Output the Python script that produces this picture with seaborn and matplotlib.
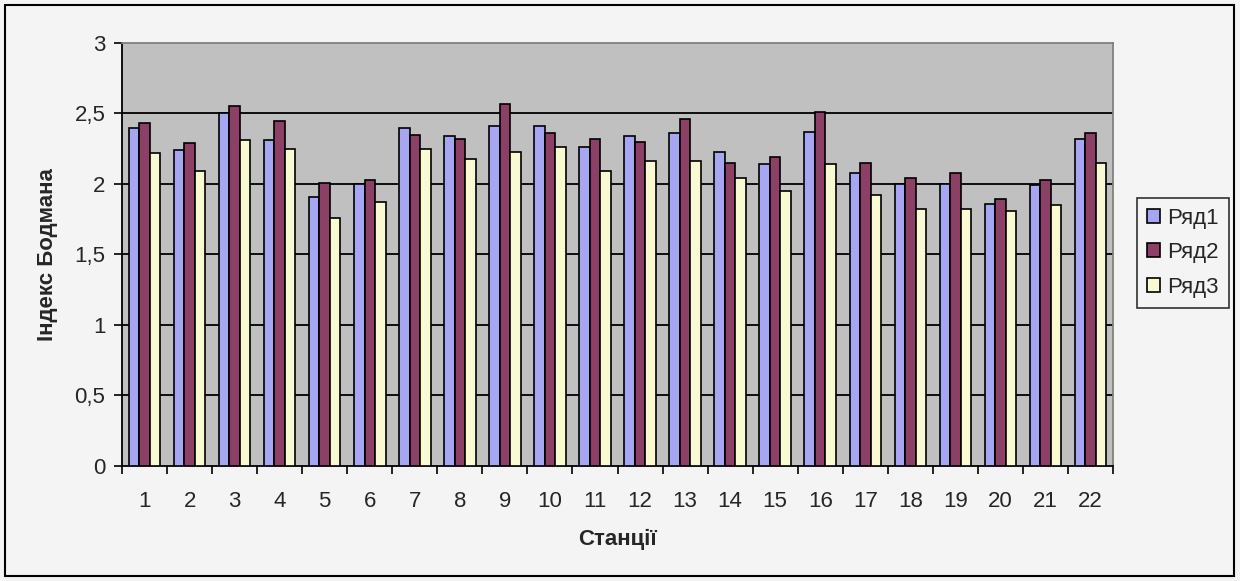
import numpy as np
import pandas as pd
import matplotlib
matplotlib.use("Agg")
import matplotlib.pyplot as plt
import seaborn as sns
from matplotlib.patches import Rectangle
from matplotlib.ticker import FuncFormatter, FixedLocator

# значення, зчитані з діаграми
stations = [str(i) for i in range(1, 23)]
row1 = [2.40, 2.24, 2.50, 2.31, 1.91, 2.00, 2.40, 2.34, 2.41, 2.41, 2.26,
        2.34, 2.36, 2.23, 2.14, 2.37, 2.08, 2.00, 2.00, 1.86, 1.99, 2.32]
row2 = [2.43, 2.29, 2.55, 2.45, 2.01, 2.03, 2.35, 2.32, 2.57, 2.36, 2.32,
        2.30, 2.46, 2.15, 2.19, 2.51, 2.15, 2.04, 2.08, 1.89, 2.03, 2.36]
row3 = [2.22, 2.09, 2.31, 2.25, 1.76, 1.87, 2.25, 2.18, 2.23, 2.26, 2.09,
        2.16, 2.16, 2.04, 1.95, 2.14, 1.92, 1.82, 1.82, 1.81, 1.85, 2.15]
series_names = ["Ряд1", "Ряд2", "Ряд3"]
colors = ["#9999ff", "#993366", "#ffffcc"]

df = pd.DataFrame({
    "station": stations * 3,
    "value": row1 + row2 + row3,
    "series": np.repeat(series_names, len(stations)),
})

sns.set_style("white")
plt.rcParams["font.family"] = ["Liberation Sans", "DejaVu Sans"]
FS = 16

fig = plt.figure(figsize=(12.4, 5.81), dpi=100, facecolor="#f4f4f4")
ax = fig.add_axes([0.0984, 0.198, 0.7992, 0.728])
ax.set_facecolor("#c0c0c0")

sns.barplot(data=df, x="station", y="value", hue="series", palette=colors,
            width=0.7, gap=0, edgecolor="black", linewidth=1.2, ax=ax,
            legend=True, zorder=3)

ax.set_ylim(0, 3)
ax.set_xlim(-0.5, len(stations) - 0.5)
ax.set_yticks(np.arange(0, 3.01, 0.5))
ax.yaxis.set_major_formatter(FuncFormatter(lambda v, p: f"{v:g}".replace(".", ",")))
for yv in [0.5, 1, 1.5, 2, 2.5]:
    ax.axhline(yv, color="black", lw=1.3, zorder=1)

# риски між категоріями
ax.xaxis.set_minor_locator(FixedLocator(np.arange(-0.5, len(stations), 1)))
ax.tick_params(axis="x", which="major", length=0, pad=18, labelsize=FS)
ax.tick_params(axis="x", which="minor", length=6, width=1.2, direction="out", color="black")
ax.tick_params(axis="y", length=6, width=1.2, direction="out", color="black", pad=6, labelsize=FS)
ax.tick_params(bottom=True, left=True)
ax.xaxis.set_tick_params(which="minor", bottom=True)

for s in ["left", "bottom"]:
    ax.spines[s].set_color("black")
    ax.spines[s].set_linewidth(1.3)
for s in ["top", "right"]:
    ax.spines[s].set_color("#808080")
    ax.spines[s].set_linewidth(1.3)

ax.set_xlabel("Станції", fontsize=FS, fontweight="bold", labelpad=12)
ax.set_ylabel("Індекс Бодмана", fontsize=FS, fontweight="bold", labelpad=12)

handles, labels = ax.get_legend_handles_labels()
ax.get_legend().remove()
leg = fig.legend(handles, labels, loc="center left", bbox_to_anchor=(0.917, 0.565),
                 fontsize=FS, frameon=True, fancybox=False, edgecolor="black",
                 facecolor="#f4f4f4", handlelength=0.6, handleheight=0.6,
                 handletextpad=0.3, labelspacing=0.6, borderpad=0.45,
                 borderaxespad=0)
leg.get_frame().set_linewidth(1.2)

fig.patches.append(Rectangle((0.004, 0.009), 0.991, 0.982, transform=fig.transFigure,
                             fill=False, edgecolor="black", linewidth=1.5))

fig.savefig("out.png", dpi=100, facecolor=fig.get_facecolor())
